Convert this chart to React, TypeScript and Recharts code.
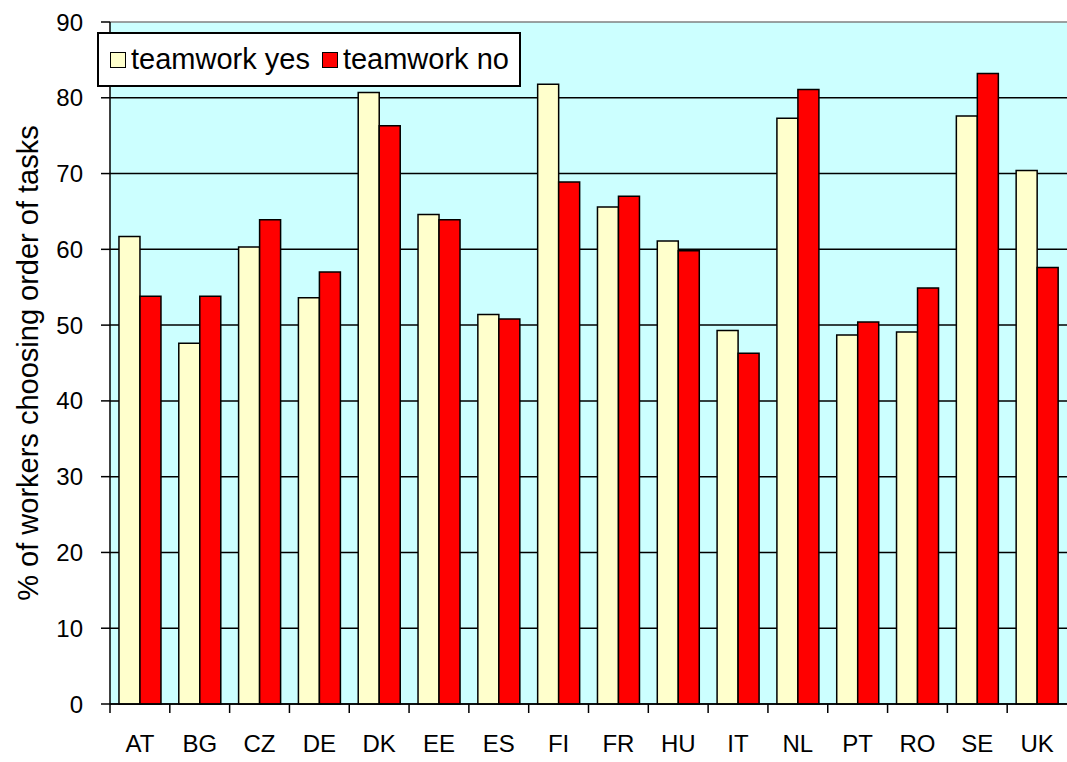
import { Bar, BarChart, CartesianGrid, XAxis, YAxis } from "recharts";

const countries = ["AT", "BG", "CZ", "DE", "DK", "EE", "ES", "FI", "FR", "HU", "IT", "NL", "PT", "RO", "SE", "UK"];
const teamworkYes = [61.7, 47.6, 60.3, 53.6, 80.7, 64.6, 51.4, 81.8, 65.6, 61.1, 49.3, 77.3, 48.7, 49.1, 77.6, 70.4];
const teamworkNo = [53.8, 53.8, 63.9, 57.0, 76.3, 63.9, 50.8, 68.9, 67.0, 59.8, 46.3, 81.1, 50.4, 54.9, 83.2, 57.6];
const yTicks = [0, 10, 20, 30, 40, 50, 60, 70, 80, 90];

const data = countries.map((c, i) => ({ country: c, yes: teamworkYes[i], no: teamworkNo[i] }));

const W = 1067;
const H = 762;
const AXIS_W = 110;
const TOP = 22;
const BAND = (W - AXIS_W) / countries.length;
const FONT = "'Liberation Sans', Arial, sans-serif";

function CountryTick({ x, y, payload }: any) {
  const axisY = y - 31;
  return (
    <g>
      <line x1={x - BAND / 2} x2={x - BAND / 2} y1={axisY} y2={axisY + 9} stroke="#000" strokeWidth={1.5} />
      <text x={x} y={y} dy="0.71em" textAnchor="middle" fontSize={24} fontFamily={FONT} fill="#000">
        {payload.value}
      </text>
    </g>
  );
}

function GridLine(props: any) {
  const top = props.y1 <= TOP + 1;
  return (
    <line
      x1={props.x1}
      x2={props.x2}
      y1={props.y1}
      y2={props.y2}
      stroke={top ? "#808080" : "#000"}
      strokeWidth={1.5}
    />
  );
}

function LegendBox() {
  const item = (fill: string, label: string, gap: number) => (
    <span style={{ display: "inline-flex", alignItems: "center", marginRight: gap }}>
      <span
        style={{ width: 14, height: 14, background: fill, border: "1.5px solid #000", marginRight: 5, flex: "none" }}
      />
      {label}
    </span>
  );
  return (
    <div
      style={{
        position: "absolute",
        left: 97,
        top: 32,
        width: 424,
        height: 55,
        background: "#fff",
        border: "2px solid #000",
        boxSizing: "border-box",
        display: "flex",
        alignItems: "center",
        paddingLeft: 11,
        fontSize: 29,
        fontFamily: FONT,
        color: "#000",
        whiteSpace: "nowrap",
        overflow: "hidden",
      }}
    >
      {item("#FFFFCC", "teamwork yes", 12)}
      {item("#FF0000", "teamwork no", 0)}
    </div>
  );
}

export default function App() {
  return (
    <div style={{ position: "absolute", left: 0, top: 0, width: W, height: H, background: "#fff" }}>
      <BarChart
        width={W}
        height={H}
        data={data}
        margin={{ top: TOP, right: 0, bottom: 0, left: 0 }}
        barCategoryGap="15%"
        barGap={0}
      >
        <CartesianGrid vertical={false} horizontal={GridLine} fill="#CCFFFF" />
        <XAxis
          dataKey="country"
          height={58}
          tick={<CountryTick />}
          tickLine={false}
          tickSize={9}
          tickMargin={22}
          axisLine={{ stroke: "#000", strokeWidth: 1.5 }}
          interval={0}
        />
        <YAxis
          width={AXIS_W}
          domain={[0, 90]}
          ticks={yTicks}
          interval={0}
          tick={{ fontSize: 24, fill: "#000", fontFamily: FONT }}
          tickSize={9}
          tickMargin={18}
          tickLine={{ stroke: "#000", strokeWidth: 1.5 }}
          axisLine={{ stroke: "#000", strokeWidth: 1.5 }}
          label={({ viewBox }: any) => {
            const cx = viewBox.x + 28;
            const cy = viewBox.y + viewBox.height / 2;
            return (
              <text
                x={cx}
                y={cy}
                transform={`rotate(-90 ${cx} ${cy})`}
                textAnchor="middle"
                dominantBaseline="central"
                fontSize={29}
                fontFamily={FONT}
                fill="#000"
              >
                % of workers choosing order of tasks
              </text>
            );
          }}
        />
        <Bar dataKey="yes" name="teamwork yes" fill="#FFFFCC" stroke="#000" strokeWidth={1.5} isAnimationActive={false} />
        <Bar dataKey="no" name="teamwork no" fill="#FF0000" stroke="#000" strokeWidth={1.5} isAnimationActive={false} />
      </BarChart>
      <LegendBox />
    </div>
  );
}
